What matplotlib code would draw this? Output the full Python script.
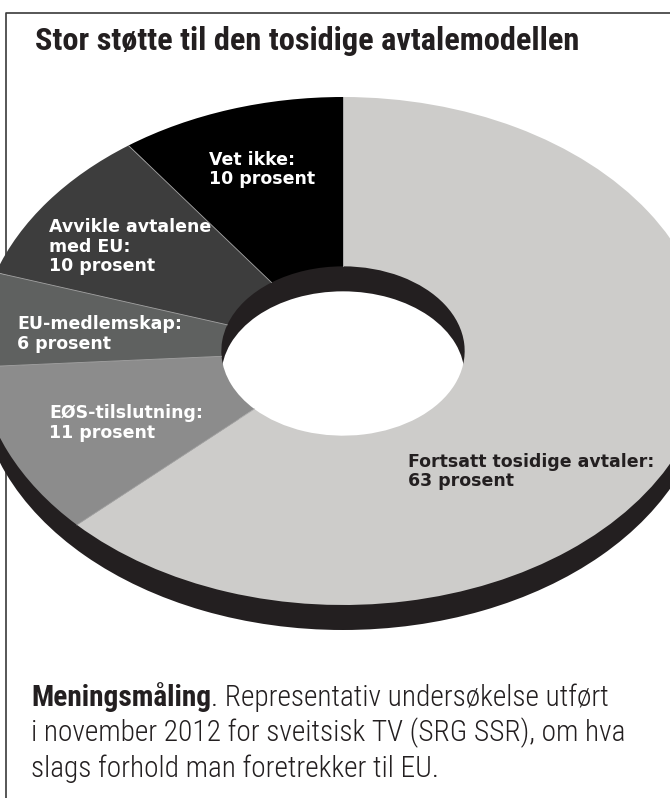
import numpy as np
import matplotlib
matplotlib.use("Agg")
import matplotlib.pyplot as plt
from matplotlib import font_manager
from matplotlib.lines import Line2D

# data
labels = ["Vet ikke:\n10 prosent",
          "Avvikle avtalene\nmed EU:\n10 prosent",
          "EU-medlemskap:\n6 prosent",
          "EØS-tilslutning:\n11 prosent",
          "Fortsatt tosidige avtaler:\n63 prosent"]
values = [10, 10, 6, 11, 63]

title = "Stor støtte til den tosidige avtalemodellen"
note_bold = "Meningsmåling"
note_lines = [". Representativ undersøkelse utført",
              "i november 2012 for sveitsisk TV (SRG SSR), om hva",
              "slags forhold man foretrekker til EU."]

# style
colors = ["#000000", "#3d3d3d", "#5f6160", "#8c8c8c", "#cdccca"]
text_colors = ["white", "white", "white", "white", "#231f20"]
shadow_color = "#231f20"
# label anchor (left x, first baseline y) in pixels from top-left
label_pos = [(209, 165), (49, 232), (17, 329), (49, 418), (408, 467)]

W, H = 670, 798
cx, cy = 343, 351          # pie centre in pixels
rx, ry = 365, 254          # outer radii in pixels (tilted disc)
hole = 1 / 3
drop = 25                  # depth of the disc in pixels

names = {f.name for f in font_manager.fontManager.ttflist}
narrow = next((n for n in ["Roboto Condensed", "Liberation Sans Narrow",
                           "Open Sans Condensed"] if n in names), "DejaVu Sans")

fig = plt.figure(figsize=(W / 100, H / 100), dpi=100)
ax = fig.add_axes([0, 0, 1, 1], zorder=1)

ax.pie([1], colors=[shadow_color], radius=1, center=(0, -drop / ry),
       wedgeprops=dict(width=1 - hole, linewidth=0))
wedges, _ = ax.pie(values, colors=colors, radius=1, startangle=90,
                   counterclock=True, wedgeprops=dict(width=1 - hole, linewidth=0))
for w in wedges:
    t = np.deg2rad(w.theta1)
    ax.plot([hole * np.cos(t), np.cos(t)], [hole * np.sin(t), np.sin(t)],
            color="#a5a5a5", lw=0.6)

ax.set_aspect("auto")
ax.set_xlim(-cx / rx, (W - cx) / rx)
ax.set_ylim(-(H - cy) / ry, cy / ry)
ax.axis("off")
ax.patch.set_visible(False)

# frame
fig.add_artist(Line2D([6 / W, 6 / W, 1], [0, 1 - 12.5 / H, 1 - 12.5 / H],
                      transform=fig.transFigure, color="#3a3a3a", lw=1.2, zorder=0.5))

def px(x, y):
    return x / W, 1 - y / H

renderer = fig.canvas.get_renderer()

def fit(t, target):
    w = t.get_window_extent(renderer).width
    t.set_fontsize(t.get_fontsize() * target / w)

# title
tt = fig.text(*px(35, 50), title, family=[narrow, "DejaVu Sans"], weight="bold",
              fontsize=20, color="#231f20", va="baseline")
fit(tt, 543)

# slice labels
for lab, (x, y), c in zip(labels, label_pos, text_colors):
    for i, line in enumerate(lab.split("\n")):
        fig.text(*px(x, y + i * 19.5), line, family="DejaVu Sans", weight="bold",
                 fontsize=12.5, color=c, va="baseline")

# note below chart
nb = fig.text(*px(31, 706), note_bold, family=[narrow, "DejaVu Sans"], weight="bold",
              fontsize=17, color="#231f20", va="baseline")
n1 = fig.text(*px(31, 706), note_lines[0], family=[narrow, "DejaVu Sans"],
              weight="light", fontsize=17, color="#231f20", va="baseline")
bw = nb.get_window_extent(renderer).width
n1.set_position(px(31 + bw, 706))
total = bw + n1.get_window_extent(renderer).width
scale = 581 / total
nb.set_fontsize(nb.get_fontsize() * scale)
n1.set_fontsize(n1.get_fontsize() * scale)
bw = nb.get_window_extent(renderer).width
n1.set_position(px(31 + bw, 706))
for i, line in enumerate(note_lines[1:]):
    fig.text(*px(31, 741.5 + i * 35.5), line, family=[narrow, "DejaVu Sans"],
             weight="light", fontsize=n1.get_fontsize(), color="#231f20", va="baseline")

fig.savefig("out.png", dpi=100)
